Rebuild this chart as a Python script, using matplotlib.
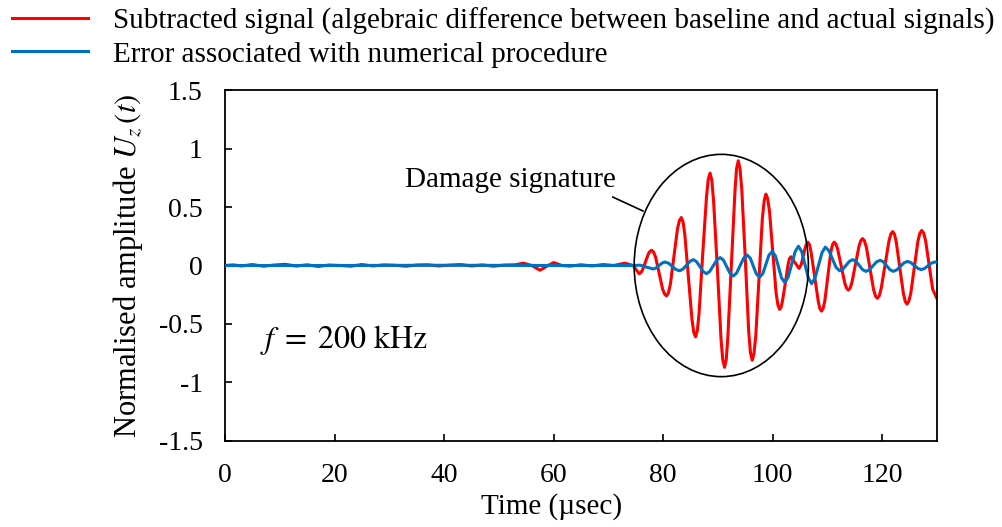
import matplotlib
matplotlib.use("Agg")
import matplotlib.pyplot as plt
from matplotlib.patches import Ellipse

plt.rcParams['font.family'] = ['Liberation Serif', 'DejaVu Serif']
plt.rcParams['mathtext.fontset'] = 'stix'

# subtracted signal (red)
t_sub = [0, 1.5, 3, 5, 7, 9, 11, 13, 15, 17, 19, 21, 23, 25, 27, 29, 31, 33, 35, 37,
         39, 41, 43, 45, 47, 49, 51, 53, 54.5, 56, 57.5, 59, 60, 61.5, 63, 65, 67, 69, 71,
         73, 74.5, 75.6, 76.2, 76.75, 77.3, 77.9, 78.6, 79.25, 79.9, 80.6, 81.3, 81.95, 82.6,
         83.3, 83.95, 84.6, 85.25, 85.9, 86.55, 87.2, 87.9, 88.55, 89.2, 89.9, 90.55,
         91.2, 91.8, 92.45, 93.1, 93.7, 94.35, 95.0, 95.6, 96.25, 96.9, 97.5, 98.1,
         98.75, 99.4, 100.0, 100.6, 101.25, 101.75, 102.3, 102.8, 103.3, 104.05, 104.8,
         105.2, 105.6, 106.0, 106.4, 107.0, 107.65, 108.3, 108.9, 109.5, 110.05, 110.6,
         111.2, 111.85, 112.5, 113.15, 113.8, 114.45, 115.1, 115.75, 116.4, 117.1, 117.75,
         118.4, 119.1, 119.8, 120.5, 121.2, 121.9, 122.55, 123.2, 123.85, 124.5, 125.2,
         125.85, 126.5, 127.2, 127.9, 128.55, 129.2, 130]
u_sub = [0.0, 0.005, -0.004, 0.008, -0.006, 0.004, 0.01, -0.005, 0.006, -0.008, 0.004,
         0.0, -0.006, 0.008, -0.004, 0.005, 0.002, -0.006, 0.004, 0.006, -0.004, 0.003,
         0.008, -0.004, 0.005, -0.006, 0.004, 0.006, 0.02, 0.0, -0.04, 0.0, 0.025, 0.0,
         -0.005, 0.006, -0.004, 0.008, 0.0, 0.02, 0.0, -0.07, -0.041, 0.03, 0.101, 0.13,
         0.073, -0.065, -0.203, -0.26, -0.162, 0.075, 0.312, 0.41, 0.261, -0.10, -0.461,
         -0.61, -0.405, 0.09, 0.585, 0.79, 0.547, -0.04, -0.627, -0.87, -0.611, 0.013,
         0.636, 0.895, 0.645, 0.043, -0.56, -0.81, -0.602, -0.10, 0.402, 0.61, 0.466,
         0.118, -0.231, -0.375, -0.309, -0.15, 0.009, 0.075, 0.025, -0.025, 0.008, 0.088,
         0.167, 0.2, 0.114, -0.095, -0.304, -0.39, -0.304, -0.095, 0.114, 0.20, 0.14,
         -0.005, -0.15, -0.21, -0.146, 0.01, 0.166, 0.23, 0.155, -0.025, -0.205, -0.28,
         -0.195, 0.005, 0.205, 0.29, 0.199, -0.02, -0.239, -0.33, -0.238, -0.015, 0.208,
         0.30, 0.214, 0.005, -0.204, -0.285]

# extra readings on the shoulders of each red peak, so the crests stay round
t_sub_pk = [75.89, 77.61, 78.24, 80.26, 80.94, 82.96, 83.63, 85.58, 86.23, 88.22,
            88.88, 90.87, 91.51, 93.39, 94.02, 95.93, 96.56, 98.44, 99.06, 100.94,
            101.51, 103.04, 106.71, 108.59, 109.19, 110.91, 111.53, 113.48, 114.13,
            116.08, 116.74, 118.76, 119.45, 121.55, 122.23, 124.18, 124.84, 126.86, 127.54]
u_sub_pk = [-0.062, 0.122, 0.115, -0.245, -0.235, 0.385, 0.371, -0.571, -0.557, 0.737,
            0.727, -0.807, -0.803, 0.828, 0.830, -0.745, -0.756, 0.556, 0.573, -0.338,
            -0.358, 0.058, 0.178, -0.368, -0.368, 0.178, 0.184, -0.194, -0.193,
            0.213, 0.211, -0.261, -0.258, 0.268, 0.266, -0.306, -0.306, 0.276, 0.278]

# error from the numerical procedure (blue)
t_err = [0, 20, 40, 60, 74.5, 75.8, 76.8, 78.2, 78.7, 79.25, 79.8, 80.3, 81.0, 81.65,
         82.3, 83.0, 83.6, 84.25, 84.9, 85.5, 86.1, 86.7, 87.3, 87.9, 88.5, 89.15, 89.8,
         90.4, 91.0, 91.6, 92.2, 92.8, 93.4, 94.05, 94.7, 95.3, 95.9, 96.45, 97.0, 97.6,
         98.2, 98.75, 99.3, 99.9, 100.5, 101.05, 101.6, 102.2, 102.8, 103.45, 104.1,
         104.7, 105.3, 105.9, 106.5, 107.1, 107.7, 108.35, 109.0, 109.6, 110.25, 110.9,
         111.55, 112.2, 112.8, 113.4, 114.0, 114.6, 115.2, 115.8, 116.4, 117.0, 117.65,
         118.3, 118.95, 119.6, 120.2, 120.8, 121.4, 122.0, 122.65, 123.3, 123.95, 124.6,
         125.2, 125.85, 126.5, 127.1, 127.7, 128.35, 129.0, 129.6, 130]
u_err = [0.0, 0.0, 0.002, 0.0, 0.0, 0.003, -0.012, -0.03, -0.021, 0.0, 0.021, 0.03,
         0.019, -0.0075, -0.034, -0.045, -0.031, 0.0025, 0.036, 0.05, 0.032, -0.01,
         -0.052, -0.07, -0.05, -0.001, 0.048, 0.068, 0.045, -0.011, -0.067, -0.09, -0.064,
         0.0, 0.064, 0.09, 0.062, -0.005, -0.072, -0.10, -0.068, 0.01, 0.088, 0.12, 0.081,
         -0.0125, -0.106, -0.145, -0.10, 0.01, 0.12, 0.165, 0.118, 0.005, -0.108, -0.155,
         -0.109, 0.001, 0.111, 0.157, 0.127, 0.056, -0.015, -0.045, -0.031, 0.0025, 0.036,
         0.05, 0.035, 0.0, -0.035, -0.05, -0.036, -0.0025, 0.031, 0.045, 0.031, -0.0025,
         -0.036, -0.05, -0.037, -0.0075, 0.022, 0.035, 0.025, 0.0, -0.025, -0.035, -0.026,
         -0.0025, 0.021, 0.03, 0.028]

x_ticks = [0, 20, 40, 60, 80, 100, 120]
y_ticks = [-1.5, -1, -0.5, 0, 0.5, 1, 1.5]
y_ticklabels = ['-1.5', '-1', '-0.5', '0', '0.5', '1', '1.5']

red = sorted(zip(t_sub + t_sub_pk, u_sub + u_sub_pk))
t_red = [p[0] for p in red]
u_red = [p[1] for p in red]

fig = plt.figure(figsize=(10.02, 5.27), dpi=100)
ax = fig.add_axes([0.2246, 0.1632, 0.7106, 0.666])

l1, = ax.plot(t_red, u_red, color='#ff0000', lw=2.2, zorder=2, solid_joinstyle='round')
l2, = ax.plot(t_err, u_err, color='#0070c0', lw=2.2, zorder=3, solid_joinstyle='round')

ax.set_xlim(0, 130)
ax.set_ylim(-1.5, 1.5)
ax.set_xticks(x_ticks)
ax.set_yticks(y_ticks)
ax.set_yticklabels(y_ticklabels)
ax.tick_params(direction='in', length=5, width=1.2, labelsize=20, pad=16,
               top=False, right=False)
for s in ax.spines.values():
    s.set_linewidth(1.3)

ax.set_xlabel('Time (µsec)', fontsize=21)
ax.xaxis.set_label_coords(0.458, -0.148)
ax.set_ylabel(r'Normalised amplitude $U_z\,(t)$', fontsize=22)
ax.yaxis.set_label_coords(-0.113, 0.5)

ax.add_patch(Ellipse((90.6, 0), 31.8, 1.9, fill=False, ec='black', lw=1.2, zorder=4))
ax.plot([70.8, 76.3], [0.585, 0.466], color='black', lw=1.2, zorder=4)
ax.text(32.9, 0.73, 'Damage signature', fontsize=21, va='center', ha='left')
ax.text(6.4, -0.64, r'$f\;=\;200\ \mathrm{kHz}$', fontsize=23, va='center', ha='left')

fig.legend([l1, l2],
           ['Subtracted signal (algebraic difference between baseline and actual signals)',
            'Error associated with numerical procedure'],
           loc='upper left', bbox_to_anchor=(0.012, 0.986), frameon=False, fontsize=21,
           handlelength=2.6, handletextpad=0.85, borderpad=0, borderaxespad=0,
           labelspacing=0.22)

fig.savefig('out.png', dpi=100)
